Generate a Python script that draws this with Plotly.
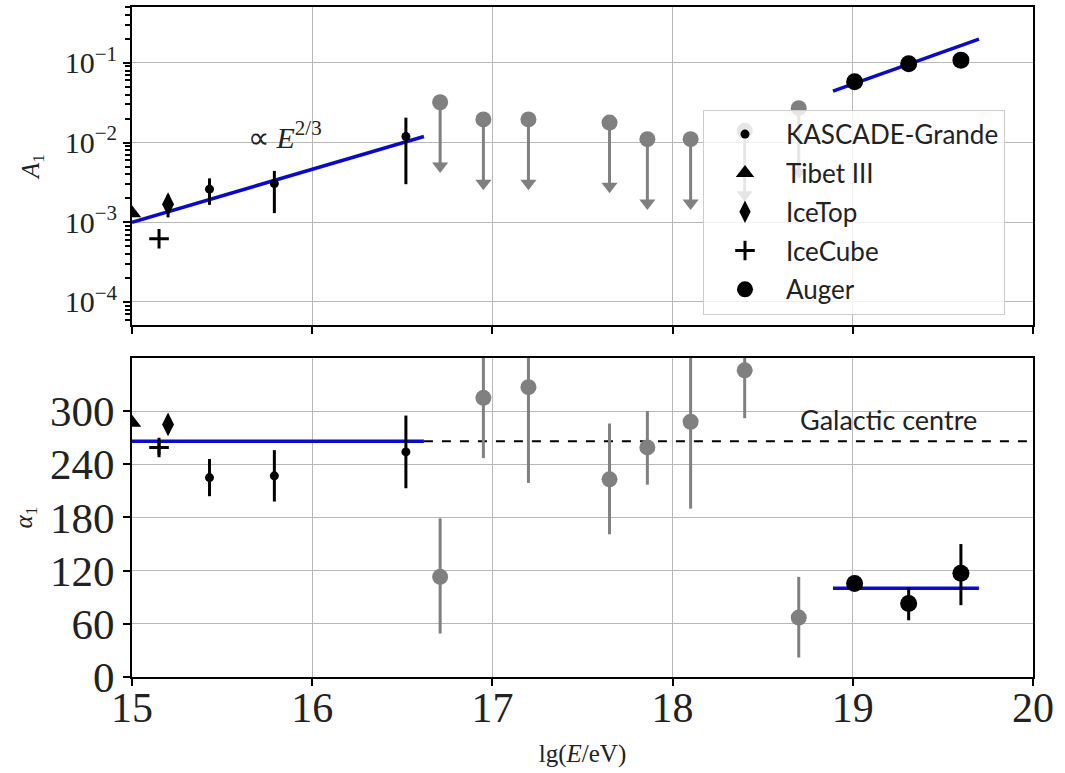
import plotly.graph_objects as go
from plotly.subplots import make_subplots

# ---------------- data ----------------
# KASCADE-Grande (black)
kg_x = [15.43, 15.79, 16.52]
kg_A = [2.6e-3, 3.05e-3, 1.19e-2]
kg_A_up = [3.55e-3, 4.4e-3, 2.05e-2]
kg_A_lo = [1.65e-3, 1.3e-3, 3.0e-3]
kg_alpha = [225, 227, 254]
kg_alpha_err = [21, 29, 41]

# Tibet III
tib_x = [15.0]
tib_A = [1.3e-3]
tib_alpha = [287]

# IceTop
it_x = [15.2]
it_A = [1.68e-3]
it_A_up = [2.2e-3]
it_A_lo = [1.15e-3]
it_alpha = [285]

# IceCube
ic_x = [15.15]
ic_A = [6.2e-4]
ic_alpha = [259]
ic_alpha_err = [8]

# Auger (black)
au_x = [19.01, 19.31, 19.6]
au_A = [5.8e-2, 0.097, 0.108]
au_A_up = [0.003, 0.004, 0.004]
au_A_lo = [0.004, 0.005, 0.018]
au_alpha = [105.6, 83, 117]
au_alpha_up = [5, 18, 33]
au_alpha_lo = [5, 19, 36]

# Auger low-energy (grey): upper limits on A1 and phases
gr_x = [16.71, 16.95, 17.2, 17.65, 17.86, 18.1, 18.4, 18.7]
gr_A_ul = [3.2e-2, 1.95e-2, 1.95e-2, 1.78e-2, 1.1e-2, 1.1e-2, 1.4e-2, 2.7e-2]
gr_alpha = [113, 315, 327, 223, 259, 288, 346, 67]
gr_alpha_up = [66, 60, 50, 63, 41, 80, 40, 46]
gr_alpha_lo = [64, 68, 108, 62, 42, 98, 54, 45]
ul_arrow_decades = 0.8

# fit lines
fit_low_x = [15.0, 16.62]
fit_low_A = [1.0e-3, 1.19e-2]
fit_high_x = [18.89, 19.7]
fit_high_A = [0.044, 0.198]
gc_alpha = 266
fit_low_alpha = [266, 266]
gc_x = [16.62, 20.0]
fit_high_alpha = [100, 100]

# axis ticks
x_ticks = [15, 16, 17, 18, 19, 20]
A_ticks = [1e-4, 1e-3, 1e-2, 1e-1]
A_ticktext = ["10<sup>−4</sup>", "10<sup>−3</sup>", "10<sup>−2</sup>", "10<sup>−1</sup>"]
A_minor_ticks = [m * d for d in [1e-5, 1e-4, 1e-3, 1e-2, 1e-1] for m in range(2, 10)]
alpha_ticks = [0, 60, 120, 180, 240, 300]

# ---------------- figure ----------------
BLACK = "black"
GREY = "#808080"
BLUE = "#0a0acd"
SERIF = "Liberation Serif"
SANS = "Lato"
TXT = "#222"

fig = make_subplots(rows=2, cols=1, shared_xaxes=False, vertical_spacing=0.05)

def minus(v, lo):
    return [a - b for a, b in zip(v, lo)]

def plus(v, up):
    return [b - a for a, b in zip(v, up)]

# --- top panel ---
fig.add_trace(go.Scatter(x=fit_low_x, y=fit_low_A, mode="lines",
                         line=dict(color=BLUE, width=3.5), showlegend=False), 1, 1)
fig.add_trace(go.Scatter(x=fit_high_x, y=fit_high_A, mode="lines",
                         line=dict(color=BLUE, width=3.5), showlegend=False), 1, 1)

# grey upper limits (stem + arrowhead + circle)
tips = [v / 10 ** ul_arrow_decades for v in gr_A_ul]
fig.add_trace(go.Scatter(x=gr_x, y=gr_A_ul, mode="markers",
                         marker=dict(symbol="circle", size=16, color=GREY),
                         error_y=dict(type="data", symmetric=False,
                                      array=[0] * len(gr_x), arrayminus=minus(gr_A_ul, tips),
                                      color=GREY, thickness=3, width=0),
                         showlegend=False), 1, 1)
fig.add_trace(go.Scatter(x=gr_x, y=tips, mode="markers",
                         marker=dict(symbol="triangle-down", size=14, color=GREY),
                         showlegend=False), 1, 1)

err_kw = dict(type="data", symmetric=False, color=BLACK, thickness=3, width=0)

fig.add_trace(go.Scatter(x=kg_x, y=kg_A, mode="markers", name="KASCADE-Grande",
                         legendgroup="kg",
                         marker=dict(symbol="circle", size=9, color=BLACK),
                         error_y=dict(array=plus(kg_A, kg_A_up), arrayminus=minus(kg_A, kg_A_lo), **err_kw)), 1, 1)
fig.add_trace(go.Scatter(x=tib_x, y=tib_A, mode="markers", name="Tibet III",
                         legendgroup="tib",
                         marker=dict(symbol="triangle-up", size=16, color=BLACK)), 1, 1)
fig.add_trace(go.Scatter(x=it_x, y=it_A, mode="markers", name="IceTop",
                         legendgroup="it",
                         marker=dict(symbol="diamond-tall", size=17, color=BLACK),
                         error_y=dict(array=plus(it_A, it_A_up), arrayminus=minus(it_A, it_A_lo), **err_kw)), 1, 1)
fig.add_trace(go.Scatter(x=ic_x, y=ic_A, mode="markers", name="IceCube",
                         legendgroup="ic",
                         marker=dict(symbol="cross-thin", size=14, color=BLACK,
                                     line=dict(color=BLACK, width=3))), 1, 1)
fig.add_trace(go.Scatter(x=au_x, y=au_A, mode="markers", name="Auger",
                         legendgroup="au",
                         marker=dict(symbol="circle", size=17, color=BLACK),
                         error_y=dict(array=au_A_up, arrayminus=au_A_lo, **err_kw)), 1, 1)

# --- bottom panel ---
fig.add_trace(go.Scatter(x=gc_x, y=[gc_alpha, gc_alpha], mode="lines",
                         line=dict(color=BLACK, width=2, dash="dash"), showlegend=False), 2, 1)
fig.add_trace(go.Scatter(x=fit_low_x, y=fit_low_alpha, mode="lines",
                         line=dict(color=BLUE, width=3.5), showlegend=False), 2, 1)
fig.add_trace(go.Scatter(x=fit_high_x, y=fit_high_alpha, mode="lines",
                         line=dict(color=BLUE, width=3.5), showlegend=False), 2, 1)
fig.add_trace(go.Scatter(x=gr_x, y=gr_alpha, mode="markers",
                         marker=dict(symbol="circle", size=16, color=GREY),
                         error_y=dict(type="data", symmetric=False, array=gr_alpha_up,
                                      arrayminus=gr_alpha_lo, color=GREY, thickness=3, width=0),
                         showlegend=False), 2, 1)
fig.add_trace(go.Scatter(x=kg_x, y=kg_alpha, mode="markers", legendgroup="kg", showlegend=False,
                         marker=dict(symbol="circle", size=9, color=BLACK),
                         error_y=dict(array=kg_alpha_err, arrayminus=kg_alpha_err, **err_kw)), 2, 1)
fig.add_trace(go.Scatter(x=tib_x, y=tib_alpha, mode="markers", legendgroup="tib", showlegend=False,
                         marker=dict(symbol="triangle-up", size=16, color=BLACK)), 2, 1)
fig.add_trace(go.Scatter(x=it_x, y=it_alpha, mode="markers", legendgroup="it", showlegend=False,
                         marker=dict(symbol="diamond-tall", size=17, color=BLACK)), 2, 1)
fig.add_trace(go.Scatter(x=ic_x, y=ic_alpha, mode="markers", legendgroup="ic", showlegend=False,
                         marker=dict(symbol="cross-thin", size=14, color=BLACK,
                                     line=dict(color=BLACK, width=3)),
                         error_y=dict(array=ic_alpha_err, arrayminus=ic_alpha_err, **err_kw)), 2, 1)
fig.add_trace(go.Scatter(x=au_x, y=au_alpha, mode="markers", legendgroup="au", showlegend=False,
                         marker=dict(symbol="circle", size=17, color=BLACK),
                         error_y=dict(array=au_alpha_up, arrayminus=au_alpha_lo, **err_kw)), 2, 1)

# ---------------- layout ----------------
H, W = 773, 1065
top_px, bot_px = 5, 677
def py(p):
    return (bot_px - p) / (bot_px - top_px)

axis_common = dict(showline=True, mirror=True, linecolor=BLACK, linewidth=2,
                   showgrid=True, gridcolor="#b8b8b8", gridwidth=1.2,
                   ticks="outside", ticklen=7, tickwidth=2, tickcolor=BLACK, zeroline=False)

A_range = [-4.29, -0.3]
top_domain = [py(324), 1.0]

fig.update_layout(
    width=W, height=H,
    margin=dict(l=132, r=32, t=top_px, b=H - bot_px),
    plot_bgcolor="white", paper_bgcolor="white",
    xaxis=dict(domain=[0, 1], range=[15, 20], tickvals=x_ticks, showticklabels=False,
               anchor="y", **axis_common),
    yaxis=dict(domain=top_domain, type="log", range=A_range,
               tickmode="array", tickvals=A_ticks, ticktext=A_ticktext,
               tickfont=dict(family=SERIF, size=30, color=TXT),
               minor=dict(tickmode="array", tickvals=A_minor_ticks, ticks="outside",
                          ticklen=5, tickwidth=1.5, tickcolor=BLACK, showgrid=False),
               title=dict(text="<i>A</i><sub>1</sub>", font=dict(family=SERIF, size=25, color=TXT),
                          standoff=18),
               **axis_common),
    xaxis2=dict(domain=[0, 1], range=[15, 20], tickvals=x_ticks, anchor="y2",
                tickfont=dict(family=SERIF, size=42, color=TXT), ticklabelstandoff=-14,
                title=dict(text="lg(<i>E</i>/eV)", font=dict(family=SERIF, size=25, color=TXT),
                           standoff=14),
                **axis_common),
    yaxis2=dict(domain=[0, py(357)], range=[0, 360], tickvals=alpha_ticks,
                tickfont=dict(family=SERIF, size=43, color=TXT),
                title=dict(text="<i>α</i><sub>1</sub>", font=dict(family=SERIF, size=25, color=TXT),
                           standoff=10),
                **axis_common),
    legend=dict(x=(703 - 132) / (W - 132 - 32), y=py(108), xanchor="left", yanchor="top",
                bgcolor="rgba(255,255,255,0.8)", bordercolor="#cccccc", borderwidth=1,
                font=dict(family=SANS, size=26, color=TXT), tracegroupgap=2,
                itemwidth=72),
    annotations=[
        dict(x=15.85, y=-1.9, xref="x", yref="y", text="∝ <i>E</i><sup>2/3</sup>",
             showarrow=False, font=dict(family=SERIF, size=30, color=TXT)),
        dict(x=19.2, y=291, xref="x2", yref="y2", text="Galactic centre",
             showarrow=False, font=dict(family=SANS, size=27, color=TXT)),
    ],
)

fig.write_html("out.html")
